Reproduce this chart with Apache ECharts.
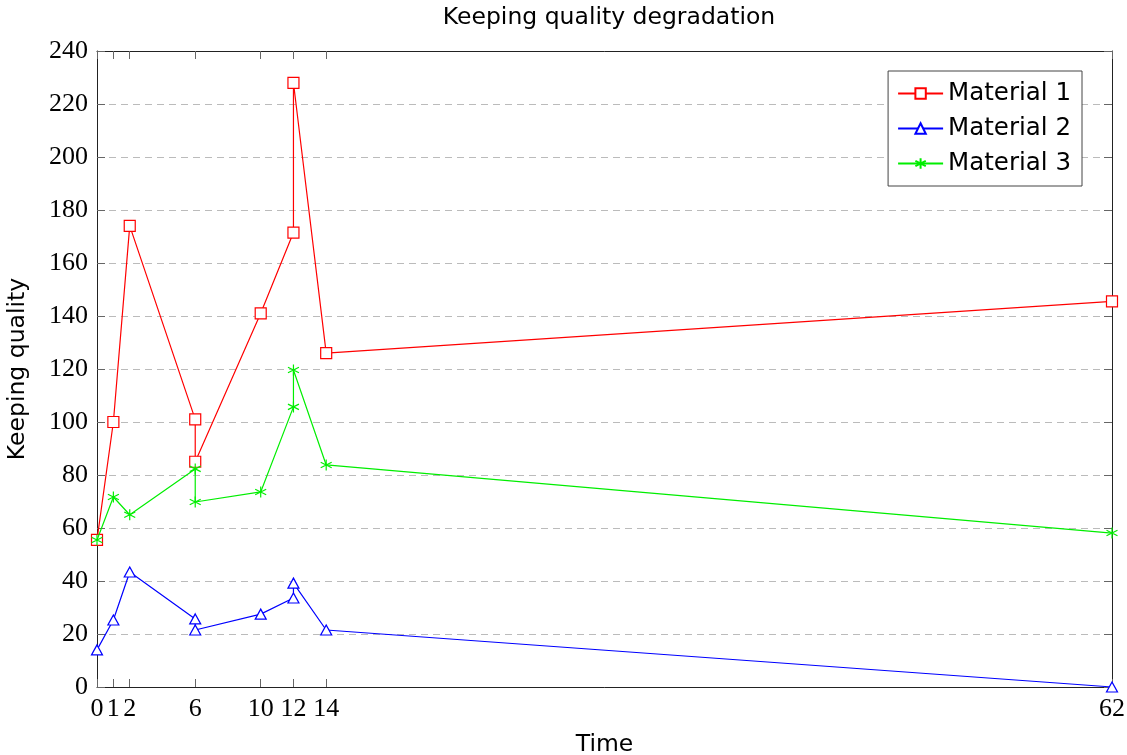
<!DOCTYPE html>
<html>
<head>
<meta charset="utf-8">
<script src="https://cdn.jsdelivr.net/npm/echarts@6/dist/echarts.min.js"></script>
<style>
html,body{margin:0;padding:0;background:#fff;}
#chart{width:1127px;height:755px;}
</style>
</head>
<body>
<div id="chart"></div>
<script>
const xTicks = [0, 1, 2, 6, 10, 12, 14, 62];
const material1 = [[0, 55.5], [1, 100], [2, 174], [6, 101], [6, 85], [10, 141], [12, 171.5], [12, 228], [14, 126], [62, 145.5]];
const material2 = [[0, 14], [1, 25.3], [2, 43.4], [6, 25.7], [6, 21.5], [10, 27.5], [12, 33.6], [12, 39.2], [14, 21.5], [62, 0]];
const material3 = [[0, 55.5], [1, 71.7], [2, 65], [6, 82.3], [6, 69.8], [10, 73.6], [12, 105.7], [12, 119.6], [14, 83.8], [62, 58.1]];
const seriesNames = ['Material 1', 'Material 2', 'Material 3'];

const sans = 'DejaVu Sans';
const serif = 'Liberation Serif';
const starPath = 'path://M0,-1L0,1M-0.866,-0.5L0.866,0.5M-0.866,0.5L0.866,-0.5';

const chart = echarts.init(document.getElementById('chart'));
const tickStyle = {show: true, inside: true, length: 8, lineStyle: {color: '#666', width: 1}};
const lineAxis = {show: true, onZero: false, lineStyle: {color: '#222', width: 1}};

chart.setOption({
  animation: false,
  backgroundColor: '#fff',
  title: {
    text: 'Keeping quality degradation',
    left: 604, textAlign: 'center', top: 1,
    textStyle: {fontFamily: sans, fontSize: 23.5, fontWeight: 'normal', color: '#000'}
  },
  legend: {
    orient: 'vertical',
    right: 45, top: 71,
    data: seriesNames,
    backgroundColor: '#fff',
    borderColor: '#444', borderWidth: 1,
    padding: [10, 11, 10, 9],
    itemGap: 10,
    itemWidth: 45, itemHeight: 13,
    textStyle: {fontFamily: sans, fontSize: 24.5, color: '#000'}
  },
  grid: {left: 97, right: 15, top: 51, bottom: 68, containLabel: false, outerBoundsMode: 'none'},
  xAxis: [{
    type: 'value', min: 0, max: 62, position: 'bottom',
    name: 'Time', nameLocation: 'middle', nameGap: 46,
    nameTextStyle: {fontFamily: sans, fontSize: 23.5, color: '#000'},
    axisLine: lineAxis,
    axisTick: Object.assign({customValues: xTicks}, tickStyle),
    axisLabel: {customValues: xTicks, margin: 9, fontFamily: serif, fontSize: 26, color: '#000'},
    splitLine: {show: false}
  }, {
    type: 'value', min: 0, max: 62, position: 'top',
    axisLine: lineAxis,
    axisTick: Object.assign({customValues: xTicks}, tickStyle),
    axisLabel: {show: false, customValues: xTicks},
    splitLine: {show: false}
  }],
  yAxis: [{
    type: 'value', min: 0, max: 240, interval: 20, position: 'left',
    name: 'Keeping quality', nameLocation: 'middle', nameGap: 67, nameRotate: 90,
    nameTextStyle: {fontFamily: sans, fontSize: 23.5, color: '#000'},
    axisLine: lineAxis,
    axisTick: tickStyle,
    axisLabel: {margin: 9, fontFamily: serif, fontSize: 26, color: '#000'},
    splitLine: {show: true, lineStyle: {color: '#bbb', width: 1, type: [7, 5]}}
  }, {
    type: 'value', min: 0, max: 240, interval: 20, position: 'right',
    axisLine: lineAxis,
    axisTick: tickStyle,
    axisLabel: {show: false},
    splitLine: {show: false}
  }],
  series: [{
    name: seriesNames[0], type: 'line', data: material1,
    symbol: 'rect', symbolSize: 11,
    itemStyle: {color: '#fff', borderColor: '#ff0000', borderWidth: 1.2},
    lineStyle: {color: '#ff0000', width: 1.2},
    z: 3
  }, {
    name: seriesNames[1], type: 'line', data: material2,
    symbol: 'triangle', symbolSize: [11, 10],
    itemStyle: {color: '#fff', borderColor: '#0000ff', borderWidth: 1.2},
    lineStyle: {color: '#0000ff', width: 1.2},
    z: 3
  }, {
    name: seriesNames[2], type: 'line', data: material3,
    symbol: starPath, symbolSize: 11,
    itemStyle: {color: 'none', borderColor: '#00ee00', borderWidth: 1.2},
    lineStyle: {color: '#00ee00', width: 1.2},
    z: 4
  }]
});
</script>
</body>
</html>
